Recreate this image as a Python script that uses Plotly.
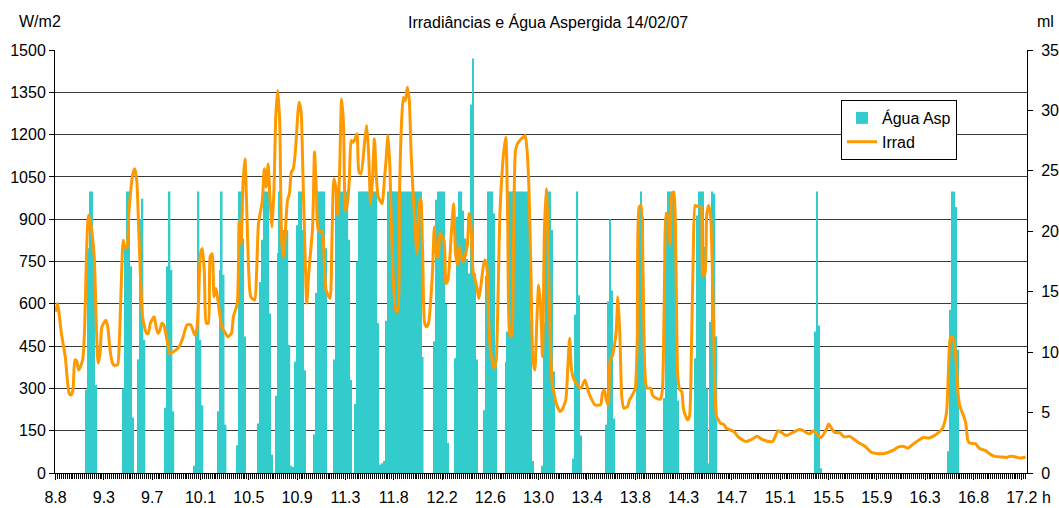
import plotly.graph_objects as go

# Start of the record: 08:50 (decimal hours); one record per minute
START_H = 8 + 50 / 60
N_MIN = 503

# Irradiance (W/m2) read at minutes after 08:50
irr_min = [
    0, 1, 3, 5, 7, 8, 9, 10, 11, 12, 14, 15, 16, 17, 18, 20, 21, 22, 23, 24,
    26, 27, 28, 29, 30, 32, 33, 34, 35, 36, 37, 38, 40, 41, 42, 43, 44, 45, 46, 47,
    48, 49, 51, 52, 53, 54, 55, 56, 57, 58, 59, 61, 64, 66, 68, 70, 72, 73, 74, 75,
    76, 77, 78, 79, 80, 81, 82, 83, 84, 86, 88, 89, 91, 92, 94, 95, 96, 97, 98, 99,
    100, 101, 103, 104, 105, 107, 108, 109, 110, 111, 112, 113, 114, 115, 116, 117, 118, 120, 121, 122,
    123, 124, 126, 127, 128, 129, 130, 131, 133, 134, 135, 136, 138, 139, 140, 142, 143, 144, 145, 146,
    147, 148, 149, 150, 151, 152, 153, 154, 155, 156, 157, 158, 160, 161, 162, 163, 164, 165, 166, 167,
    169, 170, 171, 172, 173, 174, 176, 177, 178, 179, 180, 181, 182, 183, 184, 186, 187, 188, 189, 190,
    191, 192, 193, 195, 196, 197, 198, 199, 201, 202, 203, 205, 206, 207, 208, 209, 210, 211, 213, 214,
    215, 216, 218, 219, 220, 222, 223, 224, 225, 227, 228, 229, 230, 232, 233, 234, 235, 236, 237, 238,
    239, 241, 242, 243, 244, 245, 246, 247, 248, 249, 250, 251, 252, 253, 254, 255, 256, 257, 258, 259,
    261, 262, 264, 265, 266, 267, 268, 270, 272, 273, 274, 276, 278, 279, 282, 283, 284, 285, 286, 287,
    288, 290, 291, 292, 293, 294, 296, 297, 299, 300, 301, 302, 303, 304, 305, 306, 308, 309, 311, 313,
    314, 315, 316, 317, 318, 319, 320, 321, 322, 323, 324, 325, 327, 328, 329, 330, 331, 332, 333, 334,
    335, 336, 337, 338, 339, 340, 341, 342, 343, 344, 346, 347, 349, 351, 353, 354, 357, 360, 363, 366,
    371, 374, 378, 381, 385, 387, 390, 392, 396, 399, 400, 403, 406, 408, 411, 415, 419, 422, 427, 430,
    434, 436, 439, 441, 444, 447, 449, 452, 454, 457, 459, 461, 462, 463, 464, 465, 466, 467, 468, 470,
    471, 472, 473, 476, 478, 481, 484, 486, 489, 492, 494, 497, 499, 502,
]
irr_wm2 = [
    572, 601, 495, 413, 283, 277, 295, 401, 395, 365, 401, 507, 778, 914, 890, 766, 542, 389, 424, 519,
    542, 519, 448, 401, 383, 383, 472, 672, 825, 796, 802, 931, 1061, 1079, 1038, 872, 684, 554, 519, 495,
    495, 531, 554, 519, 495, 507, 531, 525, 495, 460, 424, 430, 448, 483, 525, 525, 489, 507, 613, 778,
    796, 707, 531, 531, 766, 778, 625, 654, 613, 519, 495, 483, 495, 554, 601, 890, 813, 1026, 1114, 920,
    707, 625, 613, 707, 884, 967, 1079, 1014, 1096, 967, 872, 1002, 1273, 1356, 1238, 825, 766, 967, 990, 1067,
    1079, 1132, 1315, 1285, 1061, 802, 602, 707, 872, 1138, 990, 861, 855, 755, 648, 619, 825, 1043, 1014, 914,
    1073, 1326, 1238, 931, 955, 1038, 1179, 1173, 1185, 1203, 1067, 1061, 1179, 1232, 1132, 955, 1038, 1185, 1049, 979,
    955, 1026, 1108, 1197, 1085, 825, 578, 572, 1002, 1238, 1332, 1320, 1368, 1326, 1132, 872, 778, 943, 973, 766,
    531, 519, 531, 707, 872, 778, 766, 849, 825, 672, 684, 872, 955, 778, 737, 802, 766, 749, 802, 920,
    872, 719, 660, 619, 660, 755, 743, 566, 436, 371, 401, 637, 931, 1144, 1191, 872, 495, 483, 825, 1144,
    1167, 1185, 1191, 1197, 1144, 1002, 707, 401, 365, 531, 666, 590, 413, 872, 1008, 766, 472, 318, 283, 248,
    218, 224, 259, 365, 478, 365, 336, 312, 301, 318, 330, 283, 253, 242, 242, 283, 295, 259, 242, 401,
    413, 495, 625, 495, 271, 230, 236, 259, 283, 301, 472, 943, 949, 707, 354, 301, 301, 274, 265, 262,
    295, 613, 920, 908, 810, 990, 996, 766, 342, 295, 289, 224, 189, 200, 424, 778, 949, 946, 945, 943,
    700, 707, 920, 949, 908, 684, 354, 200, 189, 177, 171, 159, 153, 147, 130, 124, 112, 118, 130, 118,
    112, 150, 133, 142, 154, 150, 138, 150, 126, 157, 174, 145, 142, 128, 130, 110, 94, 74, 68, 71,
    83, 92, 94, 88, 104, 118, 126, 124, 130, 144, 159, 212, 354, 478, 483, 466, 401, 283, 236, 200,
    177, 118, 106, 104, 88, 80, 65, 59, 57, 55, 59, 57, 53, 57,
]

# Sprayed water (ml) per minute after 08:50
agua_min = [
    16, 17, 18, 19, 20, 21,
    35, 36, 37, 38, 39, 40,
    43, 44, 45, 46,
    57, 58, 59, 60, 61,
    72, 73, 74, 75, 76,
    84, 85, 86, 87, 88,
    94, 95, 96, 97, 98,
    105, 106, 107, 108, 109, 110, 111, 112,
    114, 115, 116, 117, 118, 119, 120, 121, 122, 123,
    124, 125, 126, 127, 128, 129,
    134, 135, 136, 137, 138, 139, 140,
    144, 145, 146, 147, 148, 149, 150, 151, 152, 153,
    155, 156, 157, 158, 159, 160, 161, 162, 163, 164, 165, 166, 167, 168, 169, 170,
    171, 172, 173, 174, 175, 176, 177, 178, 179, 180, 181, 182, 183, 184, 185, 186, 187, 188, 189, 190,
    196, 197, 198, 199, 200, 201, 202, 203,
    207, 208, 209, 210, 211, 212, 213, 214, 215, 216, 217, 218,
    222, 223, 224, 225, 226, 227, 228,
    233, 234, 235, 236, 237, 238, 239, 240, 241, 242, 243, 244, 245, 246, 247,
    252, 253, 254, 255, 256, 257, 258,
    268, 269, 270, 271, 272,
    285, 286, 287, 288, 289,
    301, 302, 303, 304, 305,
    315, 316, 317, 318, 319, 320, 321, 322,
    331, 332, 333, 334, 335, 336, 337, 338, 339, 340, 341, 342,
    393, 394, 395, 396,
    462, 463, 464, 465, 466, 467,
]
agua_ml = [
    6.9, 18.6, 23.3, 23.3, 18.9, 7.3,
    7.0, 18.6, 23.3, 23.3, 17.1, 4.6,
    9.4, 21.0, 22.7, 11.0,
    5.4, 17.1, 23.3, 16.8, 5.1,
    0.6, 11.6, 23.3, 11.0, 5.6,
    5.1, 16.8, 23.3, 16.4, 4.0,
    2.3, 23.3, 23.3, 19.4, 11.3,
    4.1, 15.8, 19.3, 23.3, 23.3, 23.3, 13.2, 1.5,
    6.4, 18.2, 23.3, 20.3, 20.1, 19.3, 20.1, 10.6, 0.6, 0.5,
    9.2, 20.5, 23.3, 23.3, 20.1, 8.5,
    3.2, 14.9, 23.3, 23.3, 23.3, 23.3, 18.6,
    9.4, 23.3, 23.3, 23.3, 23.3, 23.3, 23.3, 23.3, 19.3, 7.7,
    5.7, 17.5, 23.3, 23.3, 23.3, 23.3, 23.3, 23.3, 23.3, 23.3, 23.3, 23.3, 12.4, 0.7, 0.8, 1.0,
    12.6, 23.3, 23.3, 23.3, 23.3, 23.3, 23.3, 23.3, 23.3, 23.3, 23.3, 23.3, 23.3, 23.3, 23.3, 23.3, 23.3, 23.3, 23.3, 9.6,
    10.9, 22.6, 23.3, 23.3, 23.3, 23.3, 14.0, 2.5,
    9.5, 21.2, 23.3, 23.3, 21.7, 19.4, 17.7, 16.5, 30.5, 34.3, 16.5, 9.4,
    5.2, 16.3, 23.3, 23.3, 23.3, 21.5, 8.9,
    9.2, 11.7, 23.3, 23.3, 23.3, 23.3, 23.3, 23.3, 23.3, 23.3, 23.3, 23.3, 23.3, 12.6, 1.0,
    0.6, 12.4, 23.3, 23.3, 23.3, 20.1, 8.4,
    1.2, 13.1, 23.3, 14.7, 3.1,
    4.0, 14.2, 21.0, 15.1, 4.5,
    9.9, 21.6, 23.3, 21.2, 9.5,
    6.2, 21.6, 23.3, 23.3, 23.3, 23.3, 17.7, 6.0,
    9.5, 21.3, 23.3, 23.3, 23.3, 18.7, 7.0, 0.8, 12.5, 23.3, 23.1, 11.3,
    11.7, 23.3, 12.2, 0.4,
    1.8, 13.5, 23.3, 23.3, 22.0, 10.2,
]

# Category labels, one every 25 minutes
tick_min = list(range(0, 501, 25))
tick_txt = ["8.8", "9.3", "9.7", "10.1", "10.5", "10.9", "11.3", "11.8", "12.2", "12.6",
            "13.0", "13.4", "13.8", "14.3", "14.7", "15.1", "15.5", "15.9", "16.3", "16.8", "17.2"]


def to_hours(minutes):
    return [START_H + m / 60 for m in minutes]


FONT = "Liberation Sans, Arial, sans-serif"
TEAL = "#33CCCC"
ORANGE = "#FF9900"

# plot area in pixels
L, R, T, B = 55, 32, 50, 35
PW = 1059 - L - R
PH = 508 - T - B


def px_x(x):
    return (x - L) / PW


def px_y(y):
    return (508 - B - y) / PH


fig = go.Figure()

fig.add_trace(go.Bar(
    x=to_hours(agua_min), y=agua_ml, name="Água Asp",
    marker=dict(color=TEAL, line=dict(width=0)),
    width=0.8 / 60, yaxis="y",
))
fig.add_trace(go.Scatter(
    x=to_hours(irr_min), y=irr_wm2, name="Irrad", mode="lines",
    line=dict(color=ORANGE, width=3, shape="spline", smoothing=0.6),
    yaxis="y2",
))

fig.update_layout(
    width=1059, height=508,
    margin=dict(l=L, r=R, t=T, b=B),
    paper_bgcolor="white", plot_bgcolor="white",
    font=dict(family=FONT, size=16, color="black"),
    showlegend=True,
    legend=dict(
        x=px_x(841), y=px_y(100), xanchor="left", yanchor="top",
        bgcolor="white", bordercolor="black", borderwidth=1,
        font=dict(family=FONT, size=16), traceorder="normal",
        tracegroupgap=0, itemwidth=30,
    ),
    xaxis=dict(
        range=[START_H - 0.3 / 60, START_H + (N_MIN - 0.3) / 60],
        tickmode="array", tickvals=to_hours(tick_min), ticktext=tick_txt,
        ticks="outside", ticklen=6, tickcolor="black", tickwidth=1,
        showline=True, linecolor="black", linewidth=1,
        showgrid=False, zeroline=False, automargin=False,
        minor=dict(tickmode="linear", tick0=START_H, dtick=1 / 60,
                   ticks="outside", ticklen=5, tickcolor="black", tickwidth=1,
                   showgrid=False),
        tickfont=dict(size=16), ticklabelstandoff=4,
    ),
    yaxis=dict(
        range=[0, 35], dtick=5, side="right",
        ticks="outside", ticklen=5, tickcolor="black",
        showline=True, linecolor="black", linewidth=1,
        showgrid=False, zeroline=False, automargin=False,
        tickfont=dict(size=16), ticklabelstandoff=5,
    ),
    yaxis2=dict(
        range=[0, 1500], dtick=150, side="left", overlaying="y",
        ticks="outside", ticklen=5, tickcolor="black",
        showline=True, linecolor="black", linewidth=1,
        showgrid=True, gridcolor="#3a3a3a", gridwidth=1,
        zeroline=False, automargin=False, tickfont=dict(size=16),
    ),
    bargap=0.15,
    annotations=[
        dict(text="Irradiâncias e Água Aspergida 14/02/07", xref="paper", yref="paper",
             x=px_x(548), y=px_y(22), showarrow=False,
             xanchor="center", yanchor="middle", font=dict(size=16)),
        dict(text="W/m2", xref="paper", yref="paper", x=px_x(40), y=px_y(22),
             showarrow=False, xanchor="center", yanchor="middle", font=dict(size=16)),
        dict(text="ml", xref="paper", yref="paper", x=px_x(1056), y=px_y(22),
             showarrow=False, xanchor="right", yanchor="middle", font=dict(size=16)),
        dict(text="h", xref="paper", yref="paper", x=px_x(1046), y=px_y(497),
             showarrow=False, xanchor="center", yanchor="middle", font=dict(size=16)),
    ],
)

fig.write_html("out.html")
